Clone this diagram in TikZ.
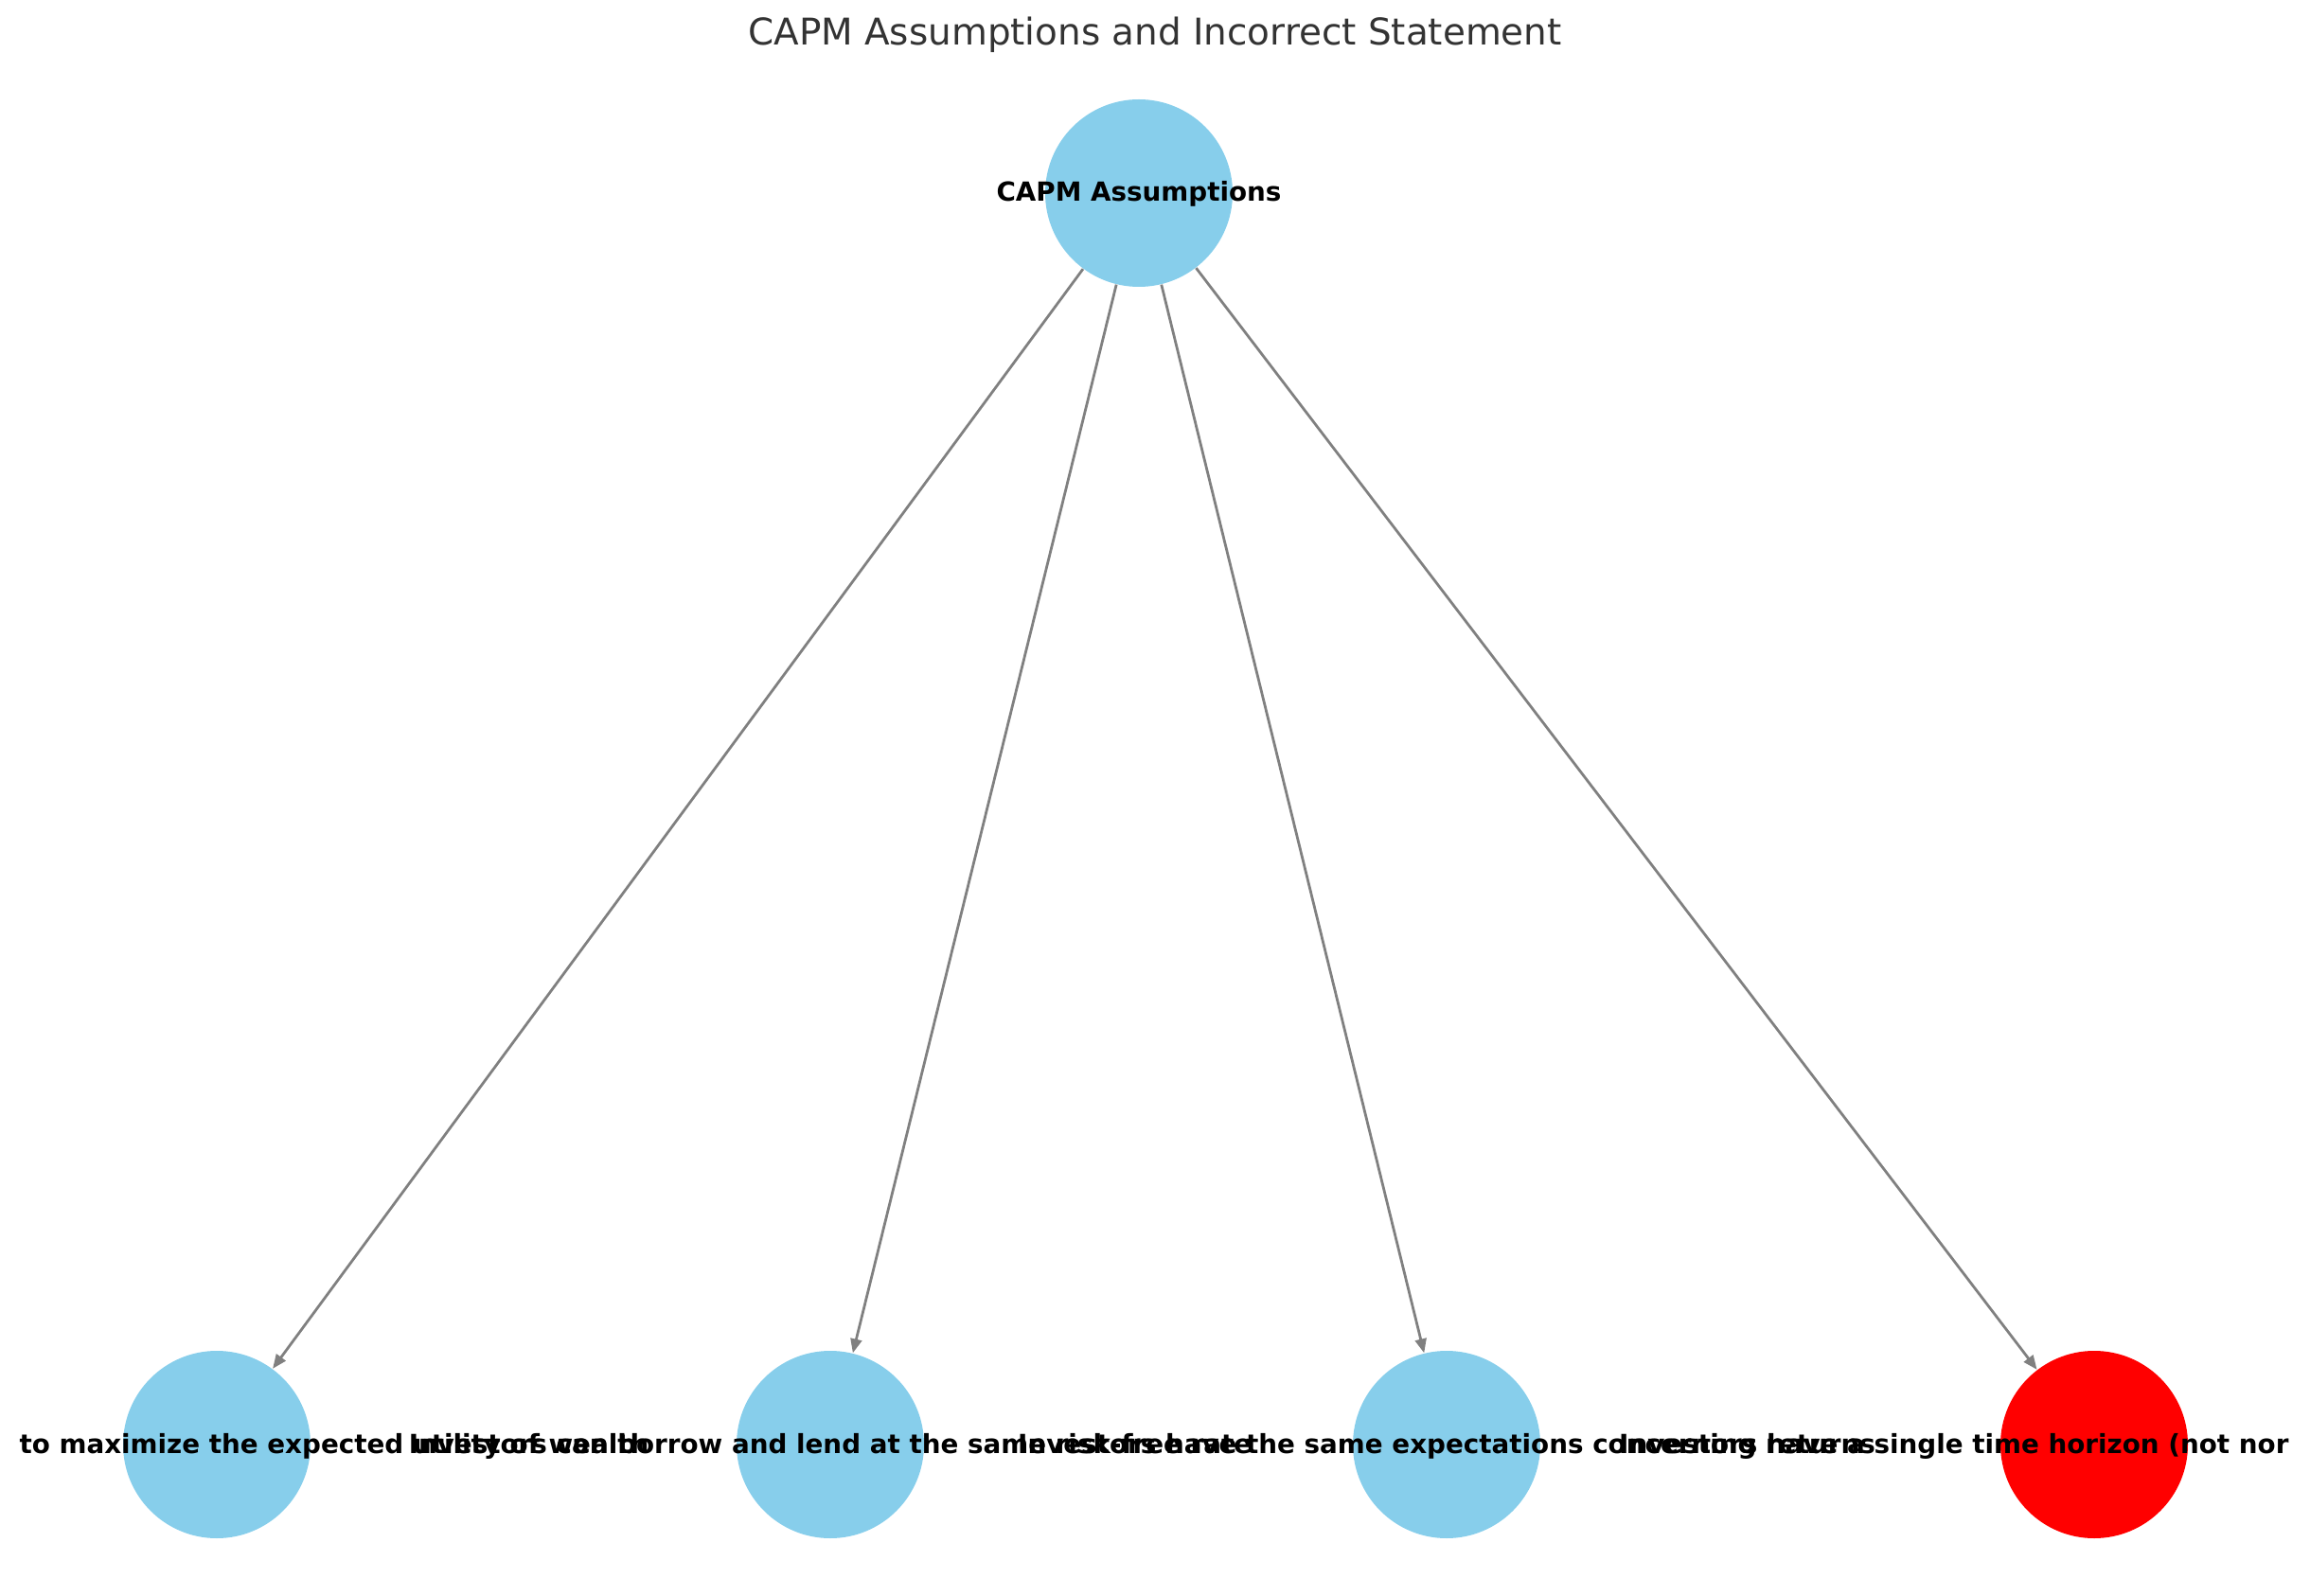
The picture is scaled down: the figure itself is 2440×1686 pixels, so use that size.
\documentclass[tikz,border=0pt]{standalone}
\usepackage{fontspec}
\setmainfont{DejaVu Sans}
\usetikzlibrary{arrows.meta}
\definecolor{skyb}{HTML}{87CEEB}
\definecolor{edgegray}{HTML}{808080}
\definecolor{titlegray}{HTML}{333333}
\begin{document}
\begin{tikzpicture}[x=0.36pt,y=-0.36pt,
  bubble/.style={circle,minimum size=71.28pt,inner sep=0pt,draw=none,fill=skyb},
  wrongbubble/.style={bubble,fill=red},
  lbl/.style={inner sep=0pt,font=\fontsize{10}{12}\selectfont\bfseries,text=black},
  conn/.style={draw=edgegray,line width=1pt,-{Triangle[length=5.4pt,width=4.3pt]}}]
\useasboundingbox (0,0) rectangle (2440,1686);
\node[font=\fontsize{14}{17}\selectfont,text=titlegray] (title) at (1220,37) {CAPM Assumptions and Incorrect Statement};
\node[bubble] (top) at (1203,204) {};
\node[bubble] (a1) at (229,1526) {};
\node[bubble] (a2) at (877,1526) {};
\node[bubble] (a3) at (1528,1526) {};
\node[wrongbubble] (a4) at (2212,1526) {};
\draw[conn] (top) -- (a1);
\draw[conn] (top) -- (a2);
\draw[conn] (top) -- (a3);
\draw[conn] (top) -- (a4);
\node[lbl,anchor=base] (ltop) at (1203,213) {CAPM Assumptions};
\node[lbl,anchor=base west] (l1) at (20,1535) {to maximize the expected utility of wealth};
\node[lbl,anchor=base] (l2) at (877,1535) {Investors can borrow and lend at the same risk-free rate};
\node[lbl,anchor=base] (l3) at (1528,1535) {Investors have the same expectations concerning returns};
\node[lbl,anchor=base east] (l4) at (2418,1535) {Investors have a single time horizon (not nor};
\end{tikzpicture}
\end{document}
